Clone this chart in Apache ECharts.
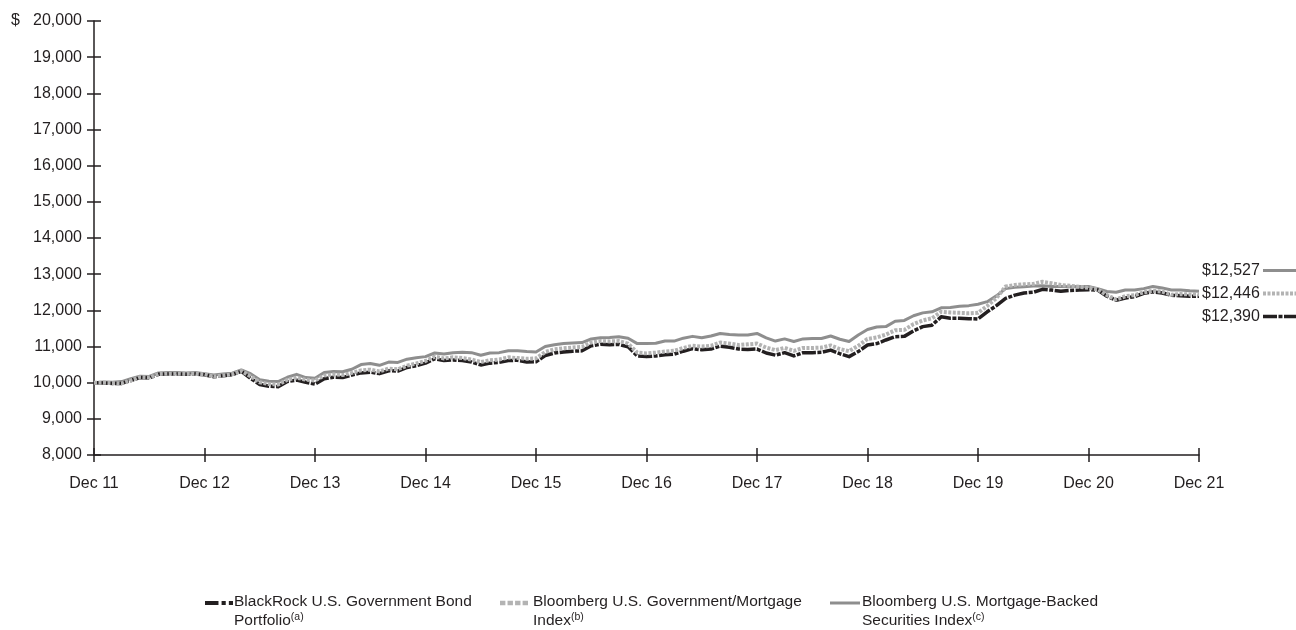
<!DOCTYPE html>
<html>
<head>
<meta charset="utf-8">
<script src="https://cdn.jsdelivr.net/npm/echarts@6/dist/echarts.min.js"></script>
<style>
  html, body { margin: 0; padding: 0; background: #ffffff; }
  #chart { width: 1296px; height: 630px; }
</style>
</head>
<body>
<div id="chart"></div>
<script>
// Growth of a $10,000 investment, month-end values Dec 2011 – Dec 2021
const monthNames = ['Jan','Feb','Mar','Apr','May','Jun','Jul','Aug','Sep','Oct','Nov','Dec'];
const startYear = 11;   // first point is Dec 11
const yearTicks = ['Dec 11','Dec 12','Dec 13','Dec 14','Dec 15','Dec 16','Dec 17','Dec 18','Dec 19','Dec 20','Dec 21'];

const fundName = 'BlackRock U.S. Government Bond Portfolio';
const govName = 'Bloomberg U.S. Government/Mortgage Index';
const mbsName = 'Bloomberg U.S. Mortgage-Backed Securities Index';

const fundValues = [
  10000, 9990, 9980, 9980, 10060, 10140, 10130, 10230, 10240, 10240, 10230, 10240,
  10220, 10160, 10190, 10220, 10310, 10120, 9950, 9900, 9890, 10030, 10070, 10010,
  9960, 10110, 10150, 10140, 10210, 10270, 10290, 10250, 10330, 10320, 10420, 10470,
  10540, 10660, 10610, 10630, 10610, 10570, 10490, 10540, 10560, 10610, 10620, 10570,
  10580, 10750, 10820, 10850, 10870, 10880, 11020, 11060, 11050, 11060, 10990, 10740,
  10720, 10740, 10770, 10790, 10870, 10940, 10910, 10930, 11010, 10980, 10930, 10920,
  10930, 10820, 10760, 10830, 10740, 10830, 10830, 10840, 10900, 10800, 10720, 10860,
  11040, 11080, 11180, 11270, 11280, 11430, 11550, 11590, 11820, 11780, 11780, 11770,
  11760, 11960, 12130, 12330, 12420, 12480, 12500, 12580, 12560, 12530, 12550, 12560,
  12570, 12560, 12390, 12280, 12340, 12380, 12470, 12510, 12480, 12420, 12400, 12390,
  12390
];

const govValues = [
  10000, 10000, 9990, 9980, 10060, 10150, 10140, 10240, 10250, 10250, 10240, 10250,
  10230, 10170, 10200, 10230, 10320, 10180, 10010, 9960, 9950, 10080, 10140, 10080,
  10060, 10200, 10230, 10210, 10270, 10340, 10360, 10310, 10390, 10370, 10470, 10530,
  10600, 10720, 10670, 10700, 10680, 10640, 10570, 10620, 10640, 10700, 10680, 10660,
  10670, 10850, 10920, 10950, 10970, 10990, 11110, 11150, 11140, 11150, 11080, 10830,
  10810, 10830, 10860, 10880, 10960, 11020, 11000, 11020, 11110, 11080, 11040, 11060,
  11080, 10970, 10900, 10960, 10880, 10960, 10960, 10970, 11030, 10930, 10870, 11020,
  11210, 11250, 11330, 11450, 11460, 11620, 11720, 11780, 11960, 11940, 11930, 11920,
  11930, 12120, 12340, 12660, 12700, 12720, 12730, 12790, 12750, 12700, 12680, 12650,
  12620, 12580, 12420, 12300, 12390, 12420, 12500, 12540, 12520, 12430, 12450, 12440,
  12446
];

const mbsValues = [
  10000, 10020, 10010, 10030, 10110, 10180, 10170, 10270, 10280, 10280, 10270, 10280,
  10250, 10210, 10240, 10260, 10350, 10250, 10080, 10040, 10030, 10150, 10230, 10140,
  10120, 10280, 10310, 10300, 10370, 10500, 10530, 10480, 10570, 10560, 10650, 10690,
  10720, 10820, 10790, 10830, 10840, 10830, 10760, 10820, 10830, 10880, 10880, 10860,
  10850, 11000, 11050, 11080, 11100, 11110, 11210, 11240, 11250, 11270, 11230, 11080,
  11080, 11090, 11150, 11150, 11230, 11280, 11240, 11290, 11360, 11330, 11320, 11320,
  11360, 11240, 11150, 11210, 11140, 11210, 11220, 11220, 11290, 11200, 11140, 11320,
  11470, 11540, 11550, 11700, 11720, 11850, 11930, 11960, 12070, 12080, 12110, 12130,
  12170, 12240, 12400, 12600, 12640, 12650, 12670, 12680, 12660, 12660, 12650, 12660,
  12660, 12600, 12520, 12500, 12560, 12560, 12600, 12660, 12620, 12560, 12560, 12540,
  12527
];

// Month-end category labels: Dec 11, Jan 12, ... Dec 21
const categories = [];
for (let i = 0; i < fundValues.length; i++) {
  const m = (11 + i) % 12;
  const y = startYear + Math.floor((11 + i) / 12);
  categories.push(monthNames[m] + ' ' + String(y).padStart(2, '0'));
}

const INK = '#231f20';
const FONT = "'Liberation Sans', Arial, sans-serif";

const styles = {
  fund: { color: INK, width: 3.5, type: [14, 1.5, 4, 1.5] },
  gov:  { color: '#b3b3b3', width: 4, type: [3, 1.5] },
  mbs:  { color: '#8e8e8e', width: 3, type: 'solid' }
};

// Key glyphs used in the legend
const keyIcons = {
  fund: 'path://M0 0H13V4H0Z M16 0H20V4H16Z M23 0H27V4H23Z',
  gov:  'path://M0 0H5V4H0Z M7 0H12V4H7Z M14 0H19V4H14Z M21 0H26V4H21Z',
  mbs:  'path://M0 0H30V3H0Z'
};

const money = v => '$' + v.toLocaleString('en-US');

const legendText = {};
legendText[fundName] = '{t|BlackRock U.S. Government Bond}\n{t|Portfolio}{s|(a)}';
legendText[govName] = '{t|Bloomberg U.S. Government/Mortgage}\n{t|Index}{s|(b)}';
legendText[mbsName] = '{t|Bloomberg U.S. Mortgage-Backed}\n{t|Securities Index}{s|(c)}';

function legendAt(name, left, icon, width, textShift) {
  return {
    data: [{ name: name, icon: icon }],
    left: left,
    top: 594,
    padding: 0,
    itemWidth: width,
    itemHeight: 14,
    symbolKeepAspect: true,
    selectedMode: false,
    formatter: n => legendText[n],
    textStyle: {
      color: INK,
      padding: [17, 0, 0, textShift],
      rich: {
        t: { fontFamily: FONT, fontSize: 15.5, lineHeight: 19, color: INK },
        s: { fontFamily: FONT, fontSize: 10.5, lineHeight: 19, verticalAlign: 'top', color: INK, padding: [0, 0, 8, 0] }
      }
    }
  };
}

const yAxisBase = {
  type: 'value', min: 8000, max: 20000, interval: 1000, position: 'left'
};
const xAxisBase = {
  type: 'category', data: categories, boundaryGap: false, position: 'bottom'
};

const chart = echarts.init(document.getElementById('chart'), null, { renderer: 'canvas' });

function lineSeries(name, values, st, labelOffset) {
  return {
    name: name,
    type: 'line',
    data: values,
    symbol: 'none',
    smooth: false,
    animation: false,
    lineStyle: { color: st.color, width: st.width, type: st.type, cap: 'butt', join: 'round' },
    itemStyle: { color: st.color },
    endLabel: {
      show: true,
      distance: 3,
      offset: [0, labelOffset],
      formatter: p => money(p.value),
      color: INK,
      fontFamily: FONT,
      fontSize: 16
    }
  };
}

const dollarSign = { type: 'text', left: 11, top: 13, style: { text: '$', fill: INK, font: '16px ' + FONT } };

chart.setOption({
  animation: false,
  backgroundColor: '#ffffff',
  grid: { left: 94, right: 97, top: 21, bottom: 175, containLabel: false },
  xAxis: [
    Object.assign({}, xAxisBase, {
      axisLine: { show: true, lineStyle: { color: INK, width: 1.5 } },
      axisTick: { show: true, interval: 11, length: 7, lineStyle: { color: INK, width: 1.5 } },
      axisLabel: {
        interval: 11, margin: 21, color: INK, fontFamily: FONT, fontSize: 16,
        formatter: (v, i) => yearTicks[i / 12]
      },
      splitLine: { show: false }
    }),
    Object.assign({}, xAxisBase, {
      axisLine: { show: false },
      axisTick: { show: true, inside: true, interval: 11, length: 7, lineStyle: { color: INK, width: 1.5 } },
      axisLabel: { show: false },
      splitLine: { show: false }
    })
  ],
  yAxis: [
    Object.assign({}, yAxisBase, {
      axisLine: { show: true, lineStyle: { color: INK, width: 1.5 } },
      axisTick: { show: true, length: 7, lineStyle: { color: INK, width: 1.5 } },
      axisLabel: {
        margin: 12, color: INK, fontFamily: FONT, fontSize: 16,
        formatter: v => v.toLocaleString('en-US')
      },
      splitLine: { show: false }
    }),
    Object.assign({}, yAxisBase, {
      axisLine: { show: false },
      axisTick: { show: true, inside: true, length: 7, lineStyle: { color: INK, width: 1.5 } },
      axisLabel: { show: false },
      splitLine: { show: false }
    })
  ],
  legend: [
    legendAt(fundName, 205, keyIcons.fund, 28, -4),
    legendAt(govName, 500, keyIcons.gov, 28, 0),
    legendAt(mbsName, 830, keyIcons.mbs, 30, -3)
  ],
  series: [
    lineSeries(mbsName, mbsValues, styles.mbs, -21),
    lineSeries(fundName, fundValues, styles.fund, 20),
    lineSeries(govName, govValues, styles.gov, -1)
  ],
  graphic: [dollarSign]
});

// Short key strokes after each closing-value label
const last = categories.length - 1;
const keyMarks = [
  { values: mbsValues, st: styles.mbs, offset: -21 },
  { values: govValues, st: styles.gov, offset: -1 },
  { values: fundValues, st: styles.fund, offset: 20 }
].map(k => {
  const p = chart.convertToPixel({ xAxisIndex: 0, yAxisIndex: 0 }, [last, k.values[last]]);
  const y = Math.round(p[1] + k.offset) + 0.5;
  return {
    type: 'line',
    shape: { x1: p[0] + 64, y1: y, x2: 1296, y2: y },
    style: {
      stroke: k.st.color,
      lineWidth: k.st.width,
      lineDash: Array.isArray(k.st.type) ? k.st.type : null
    },
    silent: true
  };
});

chart.setOption({ graphic: [dollarSign].concat(keyMarks) });
</script>
</body>
</html>
